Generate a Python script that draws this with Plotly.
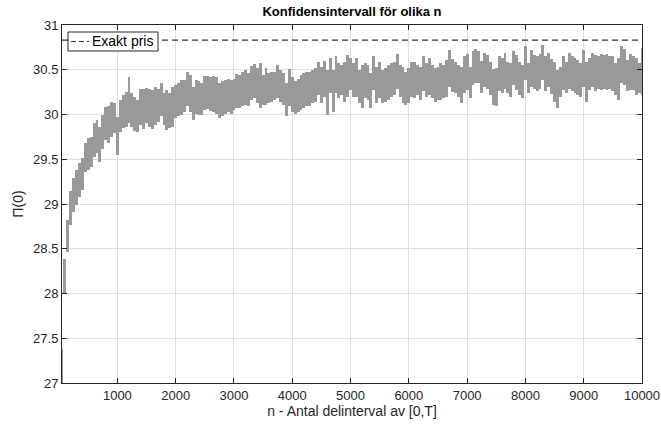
import plotly.graph_objects as go

# n values (antal delintervall)
n_values = list(range(50, 10001, 50))

# lower confidence bound per n
ci_lower = [
    26.90, 28.00, 28.46, 28.77, 28.91, 28.99, 29.08, 29.16, 29.36, 29.38,
    29.41, 29.52, 29.57, 29.47, 29.62, 29.71, 29.68, 29.75, 29.79, 29.55,
    29.80, 29.85, 29.86, 29.90, 29.86, 29.82, 29.80, 29.88, 29.84, 29.90,
    29.86, 29.84, 29.88, 29.92, 29.98, 29.88, 29.83, 29.85, 29.86, 29.96,
    29.98, 30.00, 30.03, 30.09, 30.03, 29.94, 30.01, 30.00, 30.00, 30.05,
    30.06, 30.04, 30.03, 30.01, 29.96, 29.98, 30.01, 30.03, 30.01, 30.05,
    30.07, 30.07, 30.09, 30.11, 30.09, 30.16, 30.18, 30.13, 30.07, 30.11,
    30.11, 30.13, 30.14, 30.16, 30.18, 30.14, 30.11, 29.98, 30.09, 30.03,
    30.01, 30.03, 30.05, 30.07, 30.09, 30.10, 30.13, 30.14, 30.22, 30.13,
    30.20, 29.99, 30.24, 30.03, 30.24, 30.18, 30.22, 30.14, 30.20, 30.27,
    30.20, 30.20, 30.13, 30.07, 30.18, 30.16, 30.07, 30.27, 30.13, 30.18,
    30.13, 30.14, 30.16, 30.20, 30.22, 30.29, 30.20, 30.13, 30.11, 30.13,
    30.20, 30.18, 30.22, 30.16, 30.26, 30.20, 30.22, 30.18, 30.14, 30.16,
    30.16, 30.18, 30.20, 30.31, 30.25, 30.24, 30.20, 30.13, 30.24, 30.27,
    30.18, 30.33, 30.35, 30.35, 30.24, 30.31, 30.29, 30.22, 30.11, 30.09,
    30.26, 30.24, 30.29, 30.24, 30.20, 30.33, 30.27, 30.22, 30.18, 30.39,
    30.24, 30.31, 30.29, 30.26, 30.29, 30.39, 30.26, 30.31, 30.23, 30.14,
    30.07, 30.20, 30.27, 30.24, 30.29, 30.26, 30.24, 30.22, 30.20, 30.31,
    30.14, 30.27, 30.31, 30.26, 30.29, 30.27, 30.29, 30.27, 30.29, 30.26,
    30.22, 30.16, 30.35, 30.33, 30.26, 30.27, 30.27, 30.22, 30.24, 30.22,
]

# upper confidence bound per n
ci_upper = [
    27.38, 28.38, 28.82, 29.14, 29.29, 29.38, 29.46, 29.51, 29.68, 29.74,
    29.75, 29.90, 29.94, 29.86, 30.00, 30.08, 30.10, 30.14, 30.13, 29.97,
    30.16, 30.22, 30.25, 30.42, 30.24, 30.20, 30.16, 30.29, 30.28, 30.30,
    30.29, 30.27, 30.31, 30.29, 30.35, 30.24, 30.27, 30.24, 30.31, 30.33,
    30.35, 30.39, 30.39, 30.48, 30.44, 30.31, 30.39, 30.37, 30.35, 30.43,
    30.43, 30.42, 30.43, 30.42, 30.35, 30.37, 30.38, 30.40, 30.39, 30.40,
    30.45, 30.44, 30.48, 30.50, 30.46, 30.54, 30.56, 30.52, 30.58, 30.44,
    30.52, 30.46, 30.47, 30.48, 30.55, 30.50, 30.46, 30.35, 30.51, 30.42,
    30.37, 30.40, 30.44, 30.46, 30.47, 30.48, 30.50, 30.52, 30.59, 30.53,
    30.60, 30.50, 30.63, 30.50, 30.65, 30.57, 30.55, 30.59, 30.67, 30.63,
    30.57, 30.63, 30.50, 30.55, 30.57, 30.55, 30.46, 30.65, 30.53, 30.59,
    30.50, 30.52, 30.55, 30.58, 30.59, 30.68, 30.55, 30.53, 30.48, 30.52,
    30.59, 30.59, 30.55, 30.53, 30.65, 30.57, 30.63, 30.55, 30.52, 30.53,
    30.58, 30.55, 30.61, 30.72, 30.62, 30.59, 30.55, 30.53, 30.65, 30.68,
    30.53, 30.71, 30.73, 30.71, 30.60, 30.69, 30.67, 30.59, 30.51, 30.52,
    30.65, 30.63, 30.69, 30.59, 30.57, 30.71, 30.67, 30.59, 30.55, 30.76,
    30.57, 30.72, 30.67, 30.65, 30.68, 30.78, 30.65, 30.69, 30.62, 30.59,
    30.50, 30.53, 30.65, 30.59, 30.69, 30.65, 30.63, 30.61, 30.57, 30.72,
    30.59, 30.63, 30.69, 30.67, 30.65, 30.68, 30.67, 30.68, 30.65, 30.65,
    30.57, 30.63, 30.76, 30.73, 30.61, 30.68, 30.65, 30.63, 30.57, 30.74,
]

exact_price = 30.83
x_ticks = [1000, 2000, 3000, 4000, 5000, 6000, 7000, 8000, 9000, 10000]
y_ticks = [27, 27.5, 28, 28.5, 29, 29.5, 30, 30.5, 31]
legend_label = "Exakt pris"

FONT = "Liberation Sans, Arial, Helvetica, sans-serif"
AXC = "#262626"

# plot area in pixels (for placing the hand-made legend box)
W, H = 661, 425
ML, MR, MT, MB = 62, 19, 25, 42
PW, PH = W - ML - MR, H - MT - MB


def px(xp):
    return (xp - ML) / PW


def py(yp):
    return (H - MB - yp) / PH


fig = go.Figure()
fig.add_trace(go.Bar(
    x=n_values,
    y=[hi - lo for lo, hi in zip(ci_lower, ci_upper)],
    base=ci_lower,
    width=50,
    marker=dict(color="#999999", line=dict(width=0)),
    showlegend=False, hoverinfo="skip",
))
fig.add_trace(go.Scatter(
    x=[n_values[0], n_values[-1]], y=[exact_price, exact_price],
    mode="lines", name=legend_label,
    line=dict(color="#333333", width=1.2, dash="6px,4px"),
    showlegend=False, hoverinfo="skip",
))

# legend box (MATLAB style, compact)
fig.add_shape(type="rect", xref="paper", yref="paper",
              x0=px(68), x1=px(158), y0=py(51), y1=py(32),
              line=dict(color=AXC, width=1), fillcolor="white", layer="above")
fig.add_shape(type="line", xref="paper", yref="paper",
              x0=px(71), x1=px(89), y0=py(41.5), y1=py(41.5),
              line=dict(color="#333333", width=1.2, dash="5px,3px"), layer="above")
fig.add_annotation(xref="paper", yref="paper", x=px(90), y=py(41.5),
                   text=legend_label, showarrow=False, xanchor="left",
                   yanchor="middle", font=dict(size=14, color="black", family=FONT))

fig.update_layout(
    width=W, height=H,
    margin=dict(l=ML, r=MR, t=MT, b=MB, autoexpand=False),
    paper_bgcolor="white", plot_bgcolor="white",
    font=dict(family=FONT, size=13, color=AXC),
    title=dict(text="<b>Konfidensintervall för olika n</b>", x=0.5, xref="paper",
               y=1 - 11 / H, yanchor="middle", xanchor="center",
               font=dict(size=13, color="black", family=FONT)),
    showlegend=False,
    bargap=0,
)
fig.update_xaxes(
    range=[n_values[0], n_values[-1]], tickvals=x_ticks, tickformat="d",
    ticks="inside", ticklen=5, tickcolor=AXC, mirror="ticks",
    showline=True, linecolor=AXC, linewidth=1, automargin=False,
    showgrid=True, gridcolor="#dfdfdf", gridwidth=1, zeroline=False,
    tickfont=dict(size=13, color=AXC),
    title=dict(text="n - Antal delinterval av [0,T]", standoff=4,
               font=dict(size=14, color=AXC)),
)
fig.update_yaxes(
    range=[27, 31], tickvals=y_ticks,
    ticks="inside", ticklen=5, tickcolor=AXC, mirror="ticks",
    showline=True, linecolor=AXC, linewidth=1, automargin=False,
    showgrid=True, gridcolor="#dfdfdf", gridwidth=1, zeroline=False,
    tickfont=dict(size=13, color=AXC),
    title=dict(text="Π(0)", standoff=6, font=dict(size=14, color=AXC)),
)

fig.write_html("out.html", config={"displayModeBar": False})
